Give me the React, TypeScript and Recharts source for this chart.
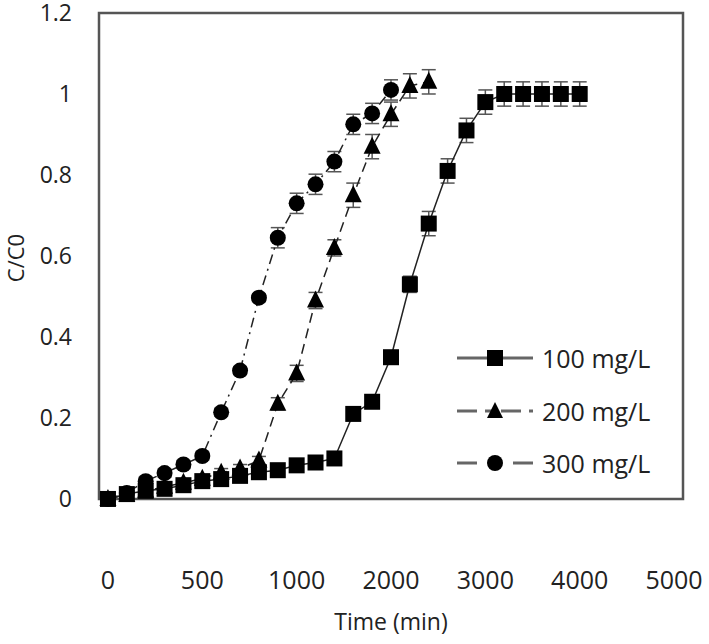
import React from "react"
import {
  LineChart, Line, XAxis, YAxis, ErrorBar, ReferenceArea
} from "recharts"

// x ticks are evenly spaced in the figure, but labelled irregularly
const xTicks = [0, 1000, 2000, 3000, 4000, 5000, 6000]
const xTickLabels = ["0", "500", "1000", "2000", "3000", "4000", "5000"]
const yTicks = [0, 0.2, 0.4, 0.6, 0.8, 1, 1.2]
const yTickLabels = ["0", "0.2", "0.4", "0.6", "0.8", "1", "1.2"]

const time100 = [0, 200, 400, 600, 800, 1000, 1200, 1400, 1600, 1800, 2000, 2200, 2400, 2600, 2800, 3000, 3200, 3400, 3600, 3800, 4000, 4200, 4400, 4600, 4800, 5000]
const conc100 = [0, 0.012, 0.02, 0.025, 0.034, 0.044, 0.049, 0.057, 0.066, 0.071, 0.083, 0.09, 0.1, 0.21, 0.24, 0.35, 0.53, 0.68, 0.81, 0.91, 0.98, 1.0, 1.0, 1.0, 1.0, 1.0]
const err100 = [0.01, 0.01, 0.01, 0.01, 0.01, 0.01, 0.01, 0.01, 0.01, 0.01, 0.01, 0.01, 0.01, 0.01, 0.01, 0.01, 0.02, 0.03, 0.03, 0.03, 0.03, 0.03, 0.03, 0.03, 0.03, 0.03]

const time200 = [0, 200, 400, 600, 800, 1000, 1200, 1400, 1600, 1800, 2000, 2200, 2400, 2600, 2800, 3000, 3200, 3400]
const conc200 = [0, 0.01, 0.02, 0.03, 0.04, 0.05, 0.065, 0.075, 0.095, 0.235, 0.31, 0.49, 0.62, 0.75, 0.87, 0.95, 1.02, 1.03]
const err200 = [0.01, 0.01, 0.01, 0.01, 0.01, 0.01, 0.01, 0.01, 0.01, 0.015, 0.02, 0.02, 0.02, 0.03, 0.03, 0.03, 0.03, 0.03]

const time300 = [0, 200, 400, 600, 800, 1000, 1200, 1400, 1600, 1800, 2000, 2200, 2400, 2600, 2800, 3000]
const conc300 = [0, 0.015, 0.044, 0.064, 0.085, 0.106, 0.214, 0.317, 0.497, 0.645, 0.73, 0.777, 0.833, 0.925, 0.952, 1.01]
const err300 = [0.01, 0.01, 0.01, 0.01, 0.01, 0.01, 0.01, 0.01, 0.01, 0.025, 0.025, 0.025, 0.025, 0.025, 0.025, 0.025]

const toRows = (t: number[], c: number[], e: number[]) => t.map((x, i) => ({ t: x, c: c[i], e: e[i] }))
const data100 = toRows(time100, conc100, err100)
const data200 = toRows(time200, conc200, err200)
const data300 = toRows(time300, conc300, err300)

const FONT = "'Open Sans', sans-serif"
const TEXT = "#222"

const square = (p: any) =>
  p.cx == null ? <g key={`sq-${p.index}`} /> :
  <rect key={`sq-${p.index}`} x={p.cx - 8} y={p.cy - 8} width={16} height={16} fill="#000" />
const triangle = (p: any) =>
  p.cx == null ? <g key={`tr-${p.index}`} /> :
  <polygon key={`tr-${p.index}`} points={`${p.cx},${p.cy - 10} ${p.cx + 8.5},${p.cy + 7} ${p.cx - 8.5},${p.cy + 7}`} fill="#000" />
const circle = (p: any) =>
  p.cx == null ? <g key={`ci-${p.index}`} /> :
  <circle key={`ci-${p.index}`} cx={p.cx} cy={p.cy} r={8} fill="#000" />

const legendRows = [
  { label: "100 mg/L", dash: undefined, marker: "square" },
  { label: "200 mg/L", dash: "20 8 12 4", marker: "triangle" },
  { label: "300 mg/L", dash: "20 36", marker: "circle" },
]

function LegendBox() {
  return (
    <div style={{ position: "absolute", left: 455, top: 332, fontFamily: FONT, fontSize: 25, color: TEXT }}>
      {legendRows.map(r => (
        <div key={r.label} style={{ display: "flex", alignItems: "center", height: 52.5 }}>
          <svg width={80} height={24}>
            <line x1={2} y1={12} x2={78} y2={12} stroke="#666" strokeWidth={3} strokeDasharray={r.dash} />
            {r.marker === "square" && <rect x={32} y={4} width={16} height={16} fill="#000" />}
            {r.marker === "triangle" && <polygon points="40,3 48,19 32,19" fill="#000" />}
            {r.marker === "circle" && <circle cx={40} cy={12} r={8} fill="#000" />}
          </svg>
          <span style={{ marginLeft: 7 }}>{r.label}</span>
        </div>
      ))}
    </div>
  )
}

export default function App() {
  return (
    <div style={{ position: "absolute", left: 0, top: 0, width: 709, height: 644, background: "#fff" }}>
      <LineChart width={709} height={644} margin={{ top: 13, right: 26, bottom: 21, left: 0 }}>
        <XAxis
          type="number" dataKey="t" domain={[-95, 6095]} allowDataOverflow
          ticks={xTicks} tickFormatter={(v: number) => xTickLabels[xTicks.indexOf(v)]}
          axisLine={false} tickLine={false} height={120} tickMargin={62}
          tick={{ fontSize: 25, fill: TEXT, fontFamily: FONT }}
          label={{ value: "Time (min)", position: "insideBottom", offset: -7, fontSize: 23, fill: TEXT, fontFamily: FONT }}
        />
        <YAxis
          type="number" domain={[0, 1.2]} ticks={yTicks}
          tickFormatter={(v: number) => yTickLabels[yTicks.indexOf(v)]}
          axisLine={false} tickLine={false} width={99} tickMargin={21}
          tick={{ fontSize: 23, fill: TEXT, fontFamily: FONT }}
          label={{ value: "C/C0", angle: -90, position: "insideLeft", offset: 16, fontSize: 22, fill: TEXT, fontFamily: FONT, style: { textAnchor: "middle" } }}
        />
        <ReferenceArea x1={-95} x2={6095} y1={0} y2={1.2} fill="none" stroke="#555" strokeWidth={2.5} />
        <Line data={data100} dataKey="c" name="100 mg/L" stroke="#222" strokeWidth={1.5} dot={square} isAnimationActive={false}>
          <ErrorBar dataKey="e" width={7} stroke="#555" strokeWidth={1.5} direction="y" />
        </Line>
        <Line data={data200} dataKey="c" name="200 mg/L" stroke="#222" strokeWidth={1.5} strokeDasharray="10 6" dot={triangle} isAnimationActive={false}>
          <ErrorBar dataKey="e" width={7} stroke="#555" strokeWidth={1.5} direction="y" />
        </Line>
        <Line data={data300} dataKey="c" name="300 mg/L" stroke="#222" strokeWidth={1.5} strokeDasharray="10 5 2 5" dot={circle} isAnimationActive={false}>
          <ErrorBar dataKey="e" width={7} stroke="#555" strokeWidth={1.5} direction="y" />
        </Line>
      </LineChart>
      <LegendBox />
    </div>
  )
}
